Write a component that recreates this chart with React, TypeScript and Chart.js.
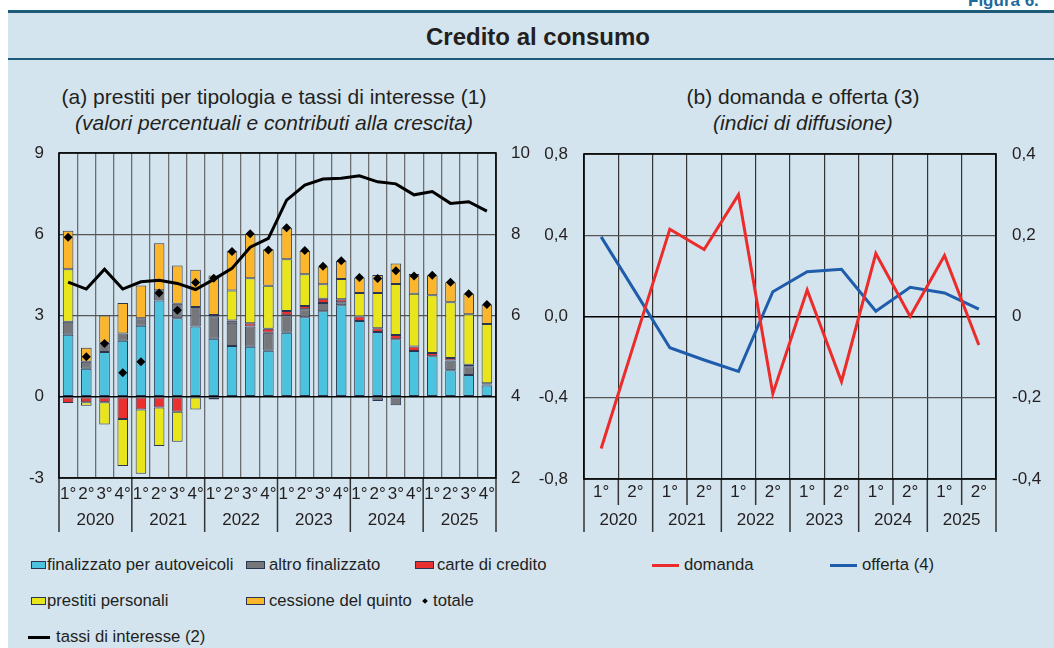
import React, { useEffect, useRef } from 'react';
import { Chart, registerables } from 'chart.js';

Chart.register(...registerables);

const FONT = '"Liberation Sans", Arial, Helvetica, sans-serif';
const TXT = '#231f20';

// ---------- data: panel (a) ----------
const quarterLabels = ['1°', '2°', '3°', '4°', '1°', '2°', '3°', '4°', '1°', '2°', '3°', '4°', '1°', '2°', '3°', '4°', '1°', '2°', '3°', '4°', '1°', '2°', '3°', '4°'];
const yearLabels = ['2020', '2021', '2022', '2023', '2024', '2025'];
const autoveicoli = [2.29, 1.03, 1.65, 2.07, 2.62, 3.55, 2.9, 2.59, 2.14, 1.87, 1.85, 1.7, 2.36, 2.94, 3.16, 3.38, 2.8, 2.39, 2.12, 1.69, 1.5, 0.98, 0.8, 0.42];
const altroFinalizzato = [0.48, 0.26, 0.34, 0.27, 0.28, 0.38, 0.53, 0.72, 0.83, 0.86, 0.74, 0.66, 0.65, 0.29, 0.3, 0.11, -0.05, -0.16, -0.31, -0.03, 0, 0.36, 0.33, 0.03];
const carteCredito = [-0.23, -0.2, -0.2, -0.82, -0.47, -0.4, -0.55, 0, 0.05, 0.09, 0.12, 0.15, 0.16, 0.12, 0.16, 0.11, 0.16, 0.14, 0.16, 0.17, 0.12, 0.09, 0.05, 0.05];
const prestitiPersonali = [1.94, -0.13, -0.82, -1.74, -2.37, -1.42, -1.11, -0.47, -0.1, 1.1, 1.67, 1.59, 1.91, 1.17, 0.53, 0.75, 0.87, 1.3, 1.88, 1.94, 2.13, 2.06, 1.87, 2.19];
const cessioneQuinto = [1.42, 0.52, 1.01, 1.12, 1.21, 1.74, 1.42, 1.38, 1.46, 1.45, 1.63, 1.35, 1.16, 0.86, 0.66, 0.66, 0.57, 0.67, 0.76, 0.73, 0.74, 0.74, 0.75, 0.72];
const totale = [5.89, 1.48, 1.97, 0.89, 1.29, 3.83, 3.19, 4.22, 4.38, 5.36, 6.02, 5.42, 6.24, 5.4, 4.82, 5.02, 4.4, 4.37, 4.65, 4.46, 4.49, 4.23, 3.8, 3.41];
const tassiInteresse = [6.82, 6.65, 7.14, 6.65, 6.83, 6.87, 6.79, 6.64, 6.89, 7.16, 7.68, 7.9, 8.84, 9.21, 9.36, 9.38, 9.44, 9.29, 9.24, 8.97, 9.05, 8.76, 8.8, 8.57];

// ---------- data: panel (b) ----------
const semesterLabels = ['1°', '2°', '1°', '2°', '1°', '2°', '1°', '2°', '1°', '2°', '1°', '2°'];
const domanda = [-0.65, -0.11, 0.43, 0.33, 0.6, -0.38, 0.13, -0.32, 0.31, 0.0, 0.3, -0.14];
const offerta = [0.196, 0.06, -0.077, -0.107, -0.135, 0.061, 0.11, 0.116, 0.013, 0.072, 0.058, 0.018];

const C_CYAN = '#4cc3de';
const C_GREY = '#75777a';
const C_RED = '#e8302e';
const C_YELLOW = '#e8e51c';
const C_ORANGE = '#fbb62b';
const C_BORDER = '#2b3550';
const C_DOM = '#ec2b2b';
const C_OFF = '#1f5cab';

const fmtComma = (v: number, dec: number) => {
  if (Math.abs(v) < 1e-9) return dec === 0 ? '0' : (0).toFixed(dec).replace('.', ',');
  return v.toFixed(dec).replace('.', ',');
};

function framePlugin(groupSize: number, midDown: number | null, yearDown: number, sepColor: string) {
  return {
    id: 'frameSep',
    afterDraw(chart: any) {
      const { ctx, chartArea } = chart;
      const { left, right, top, bottom } = chartArea;
      const xs = chart.scales.x;
      const n = xs.ticks.length;
      ctx.save();
      ctx.strokeStyle = sepColor;
      ctx.lineWidth = 1.5;
      for (let i = 0; i <= n; i++) {
        let x: number;
        if (i === 0) x = left;
        else if (i === n) x = right;
        else x = (xs.getPixelForValue(i - 1) + xs.getPixelForValue(i)) / 2;
        let y2: number | null = null;
        if (i % groupSize === 0) y2 = yearDown;
        else if (midDown !== null) y2 = midDown;
        if (y2 !== null) {
          ctx.beginPath();
          ctx.moveTo(x, bottom);
          ctx.lineTo(x, y2);
          ctx.stroke();
        }
      }
      ctx.strokeStyle = '#000';
      ctx.lineWidth = 1.6;
      ctx.strokeRect(left, top, right - left, bottom - top);
      ctx.restore();
    },
  };
}

const tickFont = { family: FONT, size: 17 };

const fitY = (w: number) => (s: any) => {
  s.width = w;
  s.paddingTop = 0;
  s.paddingBottom = 0;
};
const fitX = (h: number) => (s: any) => {
  s.height = h;
  s.paddingLeft = 0;
  s.paddingRight = 0;
};

function LeftChart() {
  const ref = useRef<HTMLCanvasElement>(null);
  useEffect(() => {
    const barBase = {
      type: 'bar' as const,
      borderColor: C_BORDER,
      borderWidth: 1,
      borderSkipped: false,
      barPercentage: 0.58,
      categoryPercentage: 1.0,
      order: 2,
      stack: 'main',
      yAxisID: 'y',
    };
    const chart = new Chart(ref.current as HTMLCanvasElement, {
      type: 'bar',
      data: {
        labels: quarterLabels,
        datasets: [
          { ...barBase, label: 'finalizzato per autoveicoli', data: autoveicoli, backgroundColor: C_CYAN },
          { ...barBase, label: 'altro finalizzato', data: altroFinalizzato, backgroundColor: C_GREY },
          { ...barBase, label: 'carte di credito', data: carteCredito, backgroundColor: C_RED },
          { ...barBase, label: 'prestiti personali', data: prestitiPersonali, backgroundColor: C_YELLOW },
          { ...barBase, label: 'cessione del quinto', data: cessioneQuinto, backgroundColor: C_ORANGE },
          {
            type: 'line' as const,
            label: 'totale',
            data: totale,
            showLine: false,
            pointStyle: 'rectRot',
            pointRadius: 4.5,
            pointBackgroundColor: '#000',
            pointBorderWidth: 0,
            order: 1,
            stack: 'tot',
            yAxisID: 'y',
          },
          {
            type: 'line' as const,
            label: 'tassi di interesse (2)',
            data: tassiInteresse,
            borderColor: '#000',
            borderWidth: 3,
            pointRadius: 0,
            tension: 0,
            order: 0,
            yAxisID: 'y1',
          },
        ] as any,
      },
      options: {
        responsive: false,
        animation: false,
        layout: { padding: { top: 13, bottom: 10, left: 0, right: 0 } },
        plugins: { legend: { display: false }, tooltip: { enabled: false } },
        scales: {
          x: {
            type: 'category',
            stacked: true,
            offset: true,
            grid: { offset: true, color: '#6e6e6e', lineWidth: 1.3, drawTicks: false },
            border: { display: false },
            ticks: { autoSkip: false, maxRotation: 0, padding: 6, font: tickFont, color: TXT },
            afterFit: fitX(26),
          },
          x2: {
            type: 'category',
            labels: yearLabels,
            position: 'bottom',
            weight: 1,
            offset: true,
            grid: { display: false, drawTicks: false },
            border: { display: false },
            ticks: { autoSkip: false, maxRotation: 0, padding: 6, font: tickFont, color: TXT },
            afterFit: fitX(26),
          },
          y: {
            stacked: true,
            min: -3,
            max: 9,
            ticks: { stepSize: 3, padding: 15, font: tickFont, color: TXT, callback: (v: any) => String(v) },
            grid: {
              color: (c: any) => (c.tick && c.tick.value === 0 ? '#000' : '#555'),
              lineWidth: (c: any) => (c.tick && c.tick.value === 0 ? 1.5 : 1.2),
              drawTicks: false,
            },
            border: { display: false },
            afterFit: fitY(59),
          },
          y1: {
            position: 'right',
            min: 2,
            max: 10,
            ticks: { stepSize: 2, padding: 15, font: tickFont, color: TXT, callback: (v: any) => String(v) },
            grid: { drawOnChartArea: false, drawTicks: false },
            border: { display: false },
            afterFit: fitY(34),
          },
        },
      } as any,
      plugins: [framePlugin(4, null, 392, '#333')],
    });
    return () => chart.destroy();
  }, []);
  return (
    <canvas
      ref={ref}
      width={530}
      height={400}
      style={{ position: 'absolute', left: 0, top: 140, width: 530, height: 400 }}
    />
  );
}

function RightChart() {
  const ref = useRef<HTMLCanvasElement>(null);
  useEffect(() => {
    const chart = new Chart(ref.current as HTMLCanvasElement, {
      type: 'line',
      data: {
        labels: semesterLabels,
        datasets: [
          { label: 'domanda', data: domanda, borderColor: C_DOM, borderWidth: 3, pointRadius: 0, tension: 0, yAxisID: 'y' },
          { label: 'offerta (4)', data: offerta, borderColor: C_OFF, borderWidth: 3, pointRadius: 0, tension: 0, yAxisID: 'y1' },
        ],
      },
      options: {
        responsive: false,
        animation: false,
        layout: { padding: { top: 14, bottom: 9, left: 0, right: 0 } },
        plugins: { legend: { display: false }, tooltip: { enabled: false } },
        scales: {
          x: {
            type: 'category',
            offset: true,
            grid: { offset: true, color: '#333', lineWidth: 1.2, drawTicks: false },
            border: { display: false },
            ticks: { autoSkip: false, maxRotation: 0, padding: 3, font: tickFont, color: TXT },
            afterFit: fitX(26),
          },
          x2: {
            type: 'category',
            labels: yearLabels,
            position: 'bottom',
            weight: 1,
            offset: true,
            grid: { display: false, drawTicks: false },
            border: { display: false },
            ticks: { autoSkip: false, maxRotation: 0, padding: 5, font: tickFont, color: TXT },
            afterFit: fitX(26),
          },
          y: {
            min: -0.8,
            max: 0.8,
            ticks: { stepSize: 0.4, padding: 16, font: tickFont, color: TXT, callback: (v: any) => fmtComma(Number(v), 1) },
            grid: {
              color: (c: any) => (c.tick && Math.abs(c.tick.value) < 1e-9 ? '#000' : '#555'),
              lineWidth: (c: any) => (c.tick && Math.abs(c.tick.value) < 1e-9 ? 1.5 : 1.2),
              drawTicks: false,
            },
            border: { display: false },
            afterFit: fitY(57),
          },
          y1: {
            position: 'right',
            min: -0.4,
            max: 0.4,
            ticks: { stepSize: 0.2, padding: 16, font: tickFont, color: TXT, callback: (v: any) => fmtComma(Number(v), Math.abs(Number(v)) < 1e-9 ? 0 : 1) },
            grid: { drawOnChartArea: false, drawTicks: false },
            border: { display: false },
            afterFit: fitY(58),
          },
        },
      } as any,
      plugins: [framePlugin(2, 365, 392, '#333')],
    });
    return () => chart.destroy();
  }, []);
  return (
    <canvas
      ref={ref}
      width={527}
      height={400}
      style={{ position: 'absolute', left: 527, top: 140, width: 527, height: 400 }}
    />
  );
}

const LEG_FONT = 16.7;

function Swatch({ x, y, w, color }: { x: number; y: number; w: number; color: string }) {
  return (
    <div
      style={{
        position: 'absolute',
        left: x,
        top: y - 4,
        width: w,
        height: 6,
        background: color,
        border: `1px solid ${C_BORDER}`,
      }}
    />
  );
}

function LineSwatch({ x, y, w, color }: { x: number; y: number; w: number; color: string }) {
  return <div style={{ position: 'absolute', left: x, top: y - 1.5, width: w, height: 3, background: color }} />;
}

function LegText({ x, y, text }: { x: number; y: number; text: string }) {
  return (
    <div
      style={{
        position: 'absolute',
        left: x,
        top: y - 11,
        height: 22,
        lineHeight: '22px',
        fontSize: LEG_FONT,
        color: TXT,
        whiteSpace: 'nowrap',
      }}
    >
      {text}
    </div>
  );
}

function TextLine({ cx, baseline, size, text, italic, bold }: { cx: number; baseline: number; size: number; text: string; italic?: boolean; bold?: boolean }) {
  const L = Math.round(size * 1.3);
  const top = baseline - L / 2 - 0.3465 * size;
  return (
    <div
      style={{
        position: 'absolute',
        left: cx - 300,
        width: 600,
        top,
        height: L,
        lineHeight: `${L}px`,
        fontSize: size,
        textAlign: 'center',
        fontStyle: italic ? 'italic' : 'normal',
        fontWeight: bold ? 'bold' : 'normal',
        color: TXT,
        whiteSpace: 'nowrap',
      }}
    >
      {text}
    </div>
  );
}

export default function App() {
  return (
    <div
      style={{
        position: 'absolute',
        left: 0,
        top: 0,
        width: 1054,
        height: 648,
        background: '#ffffff',
        overflow: 'hidden',
        fontFamily: FONT,
      }}
    >
      <div style={{ position: 'absolute', left: 8, top: 12, width: 1046, height: 636, background: '#d3e4ee' }} />
      <div style={{ position: 'absolute', left: 8, top: 10, width: 1046, height: 3, background: '#1d5b78' }} />
      <div style={{ position: 'absolute', left: 8, top: 58, width: 1046, height: 2, background: '#1d5b78' }} />
      <div
        style={{
          position: 'absolute',
          left: 968,
          top: -8,
          height: 17,
          lineHeight: '17px',
          fontSize: 17,
          fontWeight: 'bold',
          color: '#1d6a9c',
          whiteSpace: 'nowrap',
        }}
      >
        Figura 6.
      </div>
      <TextLine cx={538} baseline={45} size={24} bold text="Credito al consumo" />
      <TextLine cx={274} baseline={104} size={21} text="(a) prestiti per tipologia e tassi di interesse (1)" />
      <TextLine cx={274} baseline={130} size={21} italic text="(valori percentuali e contributi alla crescita)" />
      <TextLine cx={803} baseline={104} size={21} text="(b) domanda e offerta (3)" />
      <TextLine cx={803} baseline={130} size={21} italic text="(indici di diffusione)" />

      <LeftChart />
      <RightChart />

      {/* legend row 1 */}
      <Swatch x={31} y={565} w={13} color={C_CYAN} />
      <LegText x={47} y={565} text="finalizzato per autoveicoli" />
      <Swatch x={246} y={565} w={17} color={C_GREY} />
      <LegText x={269} y={565} text="altro finalizzato" />
      <Swatch x={415} y={565} w={17} color={C_RED} />
      <LegText x={437} y={565} text="carte di credito" />
      <LineSwatch x={652} y={565} w={27} color={C_DOM} />
      <LegText x={684} y={565} text="domanda" />
      <LineSwatch x={830} y={565} w={27} color={C_OFF} />
      <LegText x={862} y={565} text="offerta (4)" />
      {/* legend row 2 */}
      <Swatch x={31} y={601} w={13} color={C_YELLOW} />
      <LegText x={47} y={601} text="prestiti personali" />
      <Swatch x={246} y={601} w={17} color={C_ORANGE} />
      <LegText x={269} y={601} text="cessione del quinto" />
      <div
        style={{
          position: 'absolute',
          left: 423,
          top: 599,
          width: 4,
          height: 4,
          background: '#000',
          transform: 'rotate(45deg)',
        }}
      />
      <LegText x={433} y={601} text="totale" />
      {/* legend row 3 */}
      <LineSwatch x={28} y={637} w={22} color="#000" />
      <LegText x={56} y={637} text="tassi di interesse (2)" />
    </div>
  );
}
